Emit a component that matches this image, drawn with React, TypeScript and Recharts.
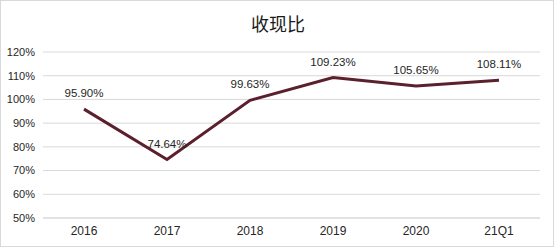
import React from "react";
import { LineChart, Line, XAxis, YAxis, CartesianGrid, LabelList } from "recharts";

const categories = ["2016", "2017", "2018", "2019", "2020", "21Q1"];
const values = [95.9, 74.64, 99.63, 109.23, 105.65, 108.11];
const yTicks = [50, 60, 70, 80, 90, 100, 110, 120];
const title = "收现比";

const data = categories.map((c, i) => ({ name: c, value: values[i] }));

export default function App() {
  return (
    <div
      style={{
        position: "absolute",
        left: 0,
        top: 0,
        width: 554,
        height: 247,
        boxSizing: "border-box",
        border: "1px solid #d9d9d9",
        background: "#fff",
        fontFamily: "'Liberation Sans', Arial, sans-serif",
      }}
    >
      <div
        style={{
          position: "absolute",
          left: 0,
          top: 10,
          width: 554,
          textAlign: "center",
          fontSize: 18,
          lineHeight: "24px",
          color: "#1a1a1a",
          fontFamily: "'Noto Sans CJK SC', sans-serif",
        }}
      >
        {title}
      </div>
      <div style={{ position: "absolute", left: -1, top: -1 }}>
        <LineChart
          width={554}
          height={247}
          data={data}
          margin={{ top: 52, right: 14, bottom: 0, left: 0 }}
        >
          <CartesianGrid vertical={false} stroke="#d9d9d9" strokeWidth={1} />
          <XAxis
            dataKey="name"
            height={29}
            padding={{ left: 41, right: 41 }}
            axisLine={{ stroke: "#d9d9d9" }}
            tickLine={false}
            tick={{ fontSize: 12, fill: "#262626" }}
          />
          <YAxis
            width={43}
            domain={[50, 120]}
            ticks={yTicks}
            axisLine={false}
            tickLine={false}
            tickFormatter={(v: number) => `${v}%`}
            tick={{ fontSize: 11, fill: "#262626" }}
            interval={0}
          />
          <Line
            type="linear"
            dataKey="value"
            stroke="#5b1f2d"
            strokeWidth={3}
            dot={false}
            isAnimationActive={false}
          >
            <LabelList
              dataKey="value"
              position="top"
              offset={12}
              formatter={(v: number) => `${v.toFixed(2)}%`}
              style={{ fontSize: 11.5, fill: "#262626" }}
            />
          </Line>
        </LineChart>
      </div>
    </div>
  );
}
